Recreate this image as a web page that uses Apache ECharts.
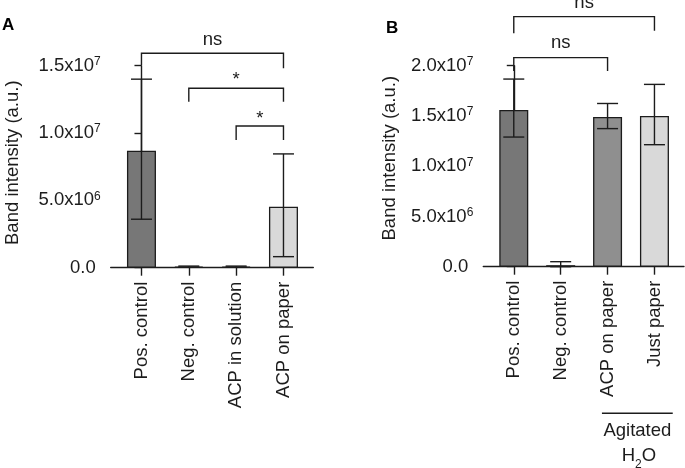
<!DOCTYPE html>
<html><head><meta charset="utf-8">
<script src="https://cdn.jsdelivr.net/npm/echarts@6/dist/echarts.min.js"></script>
<style>html,body{margin:0;padding:0;background:#fff}#c{width:685px;height:468px}</style>
</head><body><div id="c"></div>
<script>
// ---- data ----
const categoriesA = ['Pos. control', 'Neg. control', 'ACP in solution', 'ACP on paper'];
const meanA = [8.69e6, 0.08e6, 0.08e6, 4.53e6];
const lowA  = [3.6e6, 0.04e6, 0.04e6, 0.82e6];
const highA = [14.0e6, 0.12e6, 0.12e6, 8.45e6];

const categoriesB = ['Pos. control', 'Neg. control', 'ACP on paper', 'Just paper'];
const meanB = [15.6e6, 0.15e6, 14.9e6, 15.0e6];
const lowB  = [12.9e6, 0, 13.74e6, 12.14e6];
const highB = [18.67e6, 0.5e6, 16.24e6, 18.14e6];

const yTickMantA = ['0.0', '5.0x10', '1.0x10', '1.5x10'];
const yTickExpA  = ['', '6', '7', '7'];
const yTickMantB = ['0.0', '5.0x10', '1.0x10', '1.5x10', '2.0x10'];
const yTickExpB  = ['', '6', '7', '7', '7'];

// significance brackets: [from, to, top, leftLegEnd, rightLegEnd, labelY]
const bracketsA = [[0, 3, 15.92e6, 15.05e6, 14.81e6, 16.9e6],
                   [1, 3, 13.32e6, 12.33e6, 12.33e6, 13.93e6],
                   [2, 3, 10.52e6, 9.48e6, 9.48e6, 11.07e6]];
const bracketLabelsA = ['ns', '*', '*'];
const bracketsB = [[0, 3, 24.88e6, 23.22e6, 23.48e6, 26.27e6],
                   [0, 2, 20.8e6, 19.47e6, 19.47e6, 22.22e6]];
const bracketLabelsB = ['ns', 'ns'];

// grouping under x labels in B: [from, to]
const groupB = [[1.88, 3.39]];
const groupLabel1 = 'Agitated';
const groupLabel2 = ['H', '2', 'O'];

// ---- styles ----
const FONT = "'Liberation Sans', Arial, Helvetica, sans-serif";
const FS = 18.5;
const INK = '#1c1c1c';
const colorsA = ['#777777', '#8c8c8c', '#8c8c8c', '#d9d9d9'];
const colorsB = ['#777777', '#8c8c8c', '#8f8f8f', '#d9d9d9'];

function barData(mean, colors) {
  return mean.map((v, i) => ({ value: [i, v], itemStyle: { color: colors[i] } }));
}
function errData(low, high) { return low.map((l, i) => [i, l, high[i]]); }

function errRender(params, api) {
  const x = api.value(0);
  const lo = api.coord([x, api.value(1)]);
  const hi = api.coord([x, api.value(2)]);
  const cw = 10.5;
  const st = { stroke: INK, lineWidth: 1.4 };
  return { type: 'group', children: [
    { type: 'line', shape: { x1: lo[0], y1: lo[1], x2: hi[0], y2: hi[1] }, style: st },
    { type: 'line', shape: { x1: hi[0] - cw, y1: hi[1], x2: hi[0] + cw, y2: hi[1] }, style: st },
    { type: 'line', shape: { x1: lo[0] - cw, y1: lo[1], x2: lo[0] + cw, y2: lo[1] }, style: st }
  ]};
}

function bracketRender(labels) {
  return function (params, api) {
    const a = api.value(0), b = api.value(1);
    const pTopL = api.coord([a, api.value(2)]);
    const pTopR = api.coord([b, api.value(2)]);
    const pL = api.coord([a, api.value(3)]);
    const pR = api.coord([b, api.value(4)]);
    const pT = api.coord([(a + b) / 2, api.value(5)]);
    return { type: 'group', children: [
      { type: 'polyline', shape: { points: [pL, pTopL, pTopR, pR] },
        style: { stroke: INK, lineWidth: 1.4, fill: null } },
      { type: 'text', x: pT[0], y: pT[1],
        style: { text: labels[params.dataIndex], fontFamily: FONT, fontSize: FS, fill: INK,
                 textAlign: 'center', textVerticalAlign: 'middle' } }
    ]};
  };
}

function groupRender(params, api) {
  const a = api.value(0), b = api.value(1);
  const p0 = api.coord([a, 0]);
  const p1 = api.coord([b, 0]);
  const pm = api.coord([(a + b) / 2, 0]);
  const yLine = p0[1] + 146.6;
  return { type: 'group', children: [
    { type: 'line', shape: { x1: p0[0], y1: yLine, x2: p1[0], y2: yLine },
      style: { stroke: INK, lineWidth: 1.4 } },
    { type: 'text', x: pm[0], y: p0[1] + 164.5,
      style: { text: groupLabel1, fontFamily: FONT, fontSize: FS, fill: INK,
               textAlign: 'center', textVerticalAlign: 'middle' } },
    { type: 'text', x: pm[0] + 1.5, y: p0[1] + 192,
      style: { text: '{m|' + groupLabel2[0] + '}{s|' + groupLabel2[1] + '}{m|' + groupLabel2[2] + '}',
               fill: INK, textAlign: 'center', textVerticalAlign: 'middle',
               rich: {
                 m: { fontFamily: FONT, fontSize: FS, lineHeight: 24, verticalAlign: 'top', fill: INK },
                 s: { fontFamily: FONT, fontSize: 12, lineHeight: 8, verticalAlign: 'bottom', fill: INK }
               } } }
  ]};
}

function yAxisDef(gridIndex, max, mant, exp, nameGap, namePad) {
  return {
    type: 'value', gridIndex, min: 0, max, interval: 5e6,
    splitLine: { show: false },
    axisLine: { show: true, lineStyle: { color: INK, width: 1.4 } },
    axisTick: { show: true, length: 7, lineStyle: { color: INK, width: 1.4 } },
    axisLabel: {
      margin: 10,
      formatter: function (v) {
        const i = Math.round(v / 5e6);
        if (!exp[i]) return '{z|' + mant[i] + '}';
        return '{a|' + mant[i] + '}{b|' + exp[i] + '}';
      },
      rich: {
        a: { fontFamily: FONT, fontSize: FS, lineHeight: 20, color: INK },
        b: { fontFamily: FONT, fontSize: 12, lineHeight: 12, verticalAlign: 'top', color: INK },
        z: { fontFamily: FONT, fontSize: FS, lineHeight: 20, color: INK, padding: [0, 5, 0, 0] }
      }
    },
    name: 'Band intensity (a.u.)', nameLocation: 'middle', nameGap,
    nameTextStyle: { fontFamily: FONT, fontSize: FS, color: INK, padding: namePad }
  };
}

function xAxisDef(gridIndex, cats) {
  return {
    type: 'value', gridIndex, min: -0.65, max: 3.63,
    splitLine: { show: false },
    axisLine: { show: true, onZero: false, lineStyle: { color: INK, width: 1.4 } },
    axisTick: { show: true, length: 8, customValues: [0, 1, 2, 3], lineStyle: { color: INK, width: 1.4 } },
    axisLabel: {
      customValues: [0, 1, 2, 3], rotate: 90, margin: 14,
      fontFamily: FONT, fontSize: FS, color: INK,
      formatter: function (v) { return cats[Math.round(v)]; }
    }
  };
}

const chart = echarts.init(document.getElementById('c'), null, { renderer: 'canvas' });
chart.setOption({
  backgroundColor: '#ffffff',
  animation: false,
  grid: [
    { left: 110.7, top: 65.7, width: 202.6, height: 202, containLabel: false, outerBoundsMode: 'none' },
    { left: 483.3, top: 65.7, width: 200.7, height: 201, containLabel: false, outerBoundsMode: 'none' }
  ],
  xAxis: [xAxisDef(0, categoriesA), xAxisDef(1, categoriesB)],
  yAxis: [
    yAxisDef(0, 1.5e7, yTickMantA, yTickExpA, 88, [0, 0, 0, 8]),
    yAxisDef(1, 2.0e7, yTickMantB, yTickExpB, 84, [0, 0, 0, 16])
  ],
  graphic: [
    { type: 'text', left: 2, top: 17, style: { text: 'A', font: 'bold 17px ' + FONT, fill: '#000' } },
    { type: 'text', left: 386, top: 20, style: { text: 'B', font: 'bold 17px ' + FONT, fill: '#000' } }
  ],
  series: [
    { type: 'bar', xAxisIndex: 0, yAxisIndex: 0, barWidth: 29, data: barData(meanA, colorsA),
      itemStyle: { borderColor: INK, borderWidth: 1.3 } },
    { type: 'custom', xAxisIndex: 0, yAxisIndex: 0, z: 5, clip: false, renderItem: errRender,
      encode: { x: 0, y: [1, 2] }, data: errData(lowA, highA) },
    { type: 'custom', xAxisIndex: 0, yAxisIndex: 0, z: 5, clip: false, renderItem: bracketRender(bracketLabelsA),
      encode: { x: [0, 1], y: [2, 3, 4] }, data: bracketsA },
    { type: 'bar', xAxisIndex: 1, yAxisIndex: 1, barWidth: 29, data: barData(meanB, colorsB),
      itemStyle: { borderColor: INK, borderWidth: 1.3 } },
    { type: 'custom', xAxisIndex: 1, yAxisIndex: 1, z: 5, clip: false, renderItem: errRender,
      encode: { x: 0, y: [1, 2] }, data: errData(lowB, highB) },
    { type: 'custom', xAxisIndex: 1, yAxisIndex: 1, z: 5, clip: false, renderItem: bracketRender(bracketLabelsB),
      encode: { x: [0, 1], y: [2, 3, 4] }, data: bracketsB },
    { type: 'custom', xAxisIndex: 1, yAxisIndex: 1, z: 5, clip: false, renderItem: groupRender,
      encode: { x: [0, 1] }, data: groupB }
  ]
});
</script>
</body></html>
